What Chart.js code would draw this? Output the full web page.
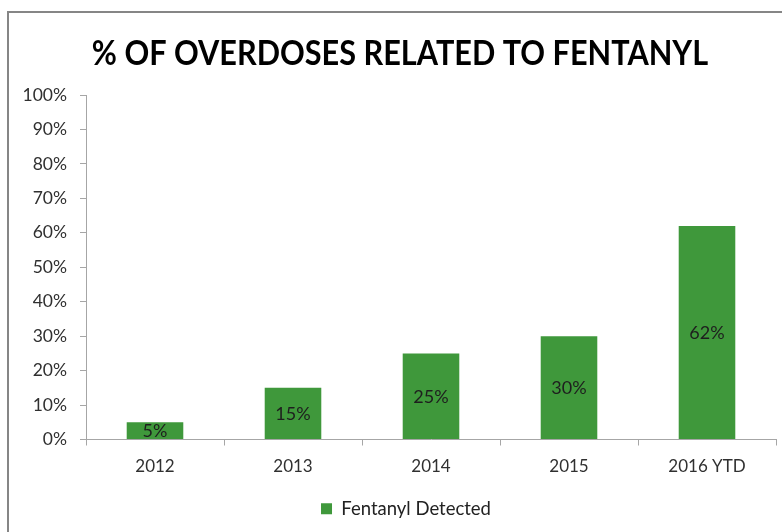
<!DOCTYPE html>
<html lang="en">
<head>
    <meta charset="UTF-8">
    <title>% of Overdoses Related to Fentanyl</title>
    <script src="https://cdn.jsdelivr.net/npm/chart.js"></script>
    <style>
        body {
            margin: 0;
            padding: 0;
            background: #ffffff;
            overflow: hidden;
        }
        .frame {
            position: absolute;
            left: 7px;
            top: 11px;
            width: 820px;
            height: 560px;
            border: 2px solid #868686;
        }
        .chart-box {
            position: absolute;
            left: 0;
            top: 0;
            width: 782px;
            height: 532px;
        }
    </style>
</head>
<body>
    <div class="frame"></div>
    <div class="chart-box">
        <canvas id="fentanylChart" width="782" height="532"></canvas>
    </div>

    <script>
        const years = ["2012", "2013", "2014", "2015", "2016 YTD"];
        const fentanylPct = [5, 15, 25, 30, 62];
        const seriesName = "Fentanyl Detected";
        const chartTitle = "% OF OVERDOSES RELATED TO FENTANYL";
        const barGreen = "#3f983b";
        const font = "Lato, 'Open Sans', sans-serif";

        // narrow bold heading, squeezed horizontally
        const heading = {
            id: "heading",
            afterDraw(chart) {
                const ctx = chart.ctx;
                ctx.save();
                ctx.font = "bold 35px " + font;
                ctx.fillStyle = "#000000";
                ctx.textAlign = "center";
                ctx.textBaseline = "middle";
                ctx.translate(400, 54);
                ctx.scale(0.876, 1);
                ctx.fillText(chartTitle, 0, 0);
                ctx.restore();
            }
        };

        // legend sits a little right of centre
        const legendShift = {
            id: "legendShift",
            afterLayout(chart) {
                chart.legend.left += 18;
                chart.legend.right += 18;
            }
        };

        // writes the % value in the middle of each bar
        const barValues = {
            id: "barValues",
            afterDatasetsDraw(chart) {
                const ctx = chart.ctx;
                const meta = chart.getDatasetMeta(0);
                ctx.save();
                ctx.font = "18px " + font;
                ctx.fillStyle = "#1e1e1e";
                ctx.textAlign = "center";
                ctx.textBaseline = "middle";
                meta.data.forEach((bar, i) => {
                    const mid = (bar.y + bar.base) / 2;
                    ctx.fillText(fentanylPct[i] + "%", bar.x, mid + 1);
                });
                ctx.restore();
            }
        };

        new Chart(document.getElementById("fentanylChart"), {
            type: "bar",
            data: {
                labels: years,
                datasets: [{
                    label: seriesName,
                    data: fentanylPct,
                    backgroundColor: barGreen,
                    categoryPercentage: 0.41,
                    barPercentage: 1
                }]
            },
            options: {
                responsive: false,
                animation: false,
                layout: { padding: { left: 0, right: 6, top: 95, bottom: 4 } },
                plugins: {
                    title: { display: false },
                    legend: {
                        position: "bottom",
                        labels: {
                            color: "#222222",
                            font: { family: font, size: 18.5 },
                            boxWidth: 11,
                            boxHeight: 11,
                            padding: 6
                        }
                    },
                    tooltip: { enabled: false }
                },
                scales: {
                    x: {
                        afterFit(scale) { scale.height = 54; },
                        grid: {
                            offset: true,
                            drawOnChartArea: false,
                            drawTicks: true,
                            tickLength: 6,
                            color: "#a6a6a6"
                        },
                        border: { color: "#a6a6a6" },
                        ticks: {
                            color: "#303030",
                            font: { family: font, size: 17 },
                            padding: 11
                        }
                    },
                    y: {
                        min: 0,
                        max: 100,
                        afterFit(scale) { scale.width = 86; },
                        grid: {
                            drawOnChartArea: false,
                            drawTicks: true,
                            tickLength: 6,
                            color: "#a6a6a6"
                        },
                        border: { color: "#a6a6a6" },
                        ticks: {
                            stepSize: 10,
                            color: "#303030",
                            font: { family: font, size: 17.5 },
                            padding: 13,
                            callback: v => v + "%"
                        }
                    }
                }
            },
            plugins: [barValues, heading, legendShift]
        });
    </script>
</body>
</html>
